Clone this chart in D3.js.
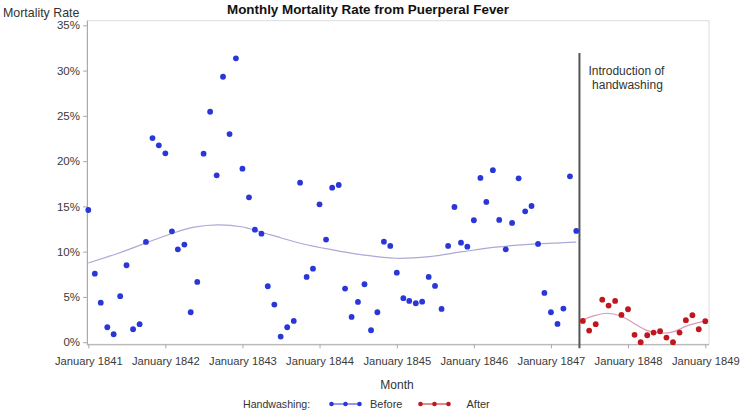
<!DOCTYPE html>
<html>
<head>
<meta charset="utf-8">
<script src="https://cdn.jsdelivr.net/npm/d3@7"></script>
<style>
  body { margin: 0; background: #fff; }
  text { font-family: "Liberation Sans", Arial, sans-serif; }
</style>
</head>
<body>
<div id="chart"></div>
<script>
// Monthly mortality rate (%)
let beforeStart = '1841-01-01';
let beforeRates = [
	14.6, 7.57, 4.37, 1.65, 0.88, 5.08, 8.5, 1.43, 1.99, 11.07, 22.55, 21.74,
	20.86, 12.25, 10.26, 10.78, 3.31, 6.66, 20.82, 25.45, 18.43, 29.32, 22.99, 31.35,
	19.16, 16.0, 12.43, 11.99, 6.18, 4.15, 0.62, 1.65, 2.35, 17.62, 7.21, 8.12,
	15.23, 11.33, 17.07, 17.36, 5.92, 2.79, 4.45, 6.4, 1.32, 3.31, 11.1, 10.63,
	7.68, 4.86, 4.56, 4.3, 4.48, 7.21, 6.21, 3.67, 10.63, 14.93, 10.99, 10.55,
	13.47, 18.14, 15.49, 19.0, 13.5, 10.26, 13.17, 18.1, 14.46, 15.04, 10.85, 5.44,
	3.31, 2.02, 3.71, 18.32, 12.29
];
let afterStart = '1847-06-01';
let afterRates = [
	2.35, 1.28, 1.99, 4.7, 4.04, 4.56, 3.01,
	3.64, 0.81, 0, 0.77, 1.06, 1.21, 0.51, 0, 1.06, 2.43, 2.98, 1.43,
	2.32
];

// Smoothed trend lines
let beforeSmoothDates = ['1841-01-01', '1841-05-20', '1842-02-01', '1842-05-18', '1842-09-07', '1842-12-27',
	'1843-05-15', '1843-10-06', '1844-03-03', '1844-07-22', '1844-12-28', '1845-06-03',
	'1845-11-09', '1846-04-15', '1846-09-19', '1847-05-01'];
let beforeSmooth = [8.75, 9.8, 12.0, 12.7, 12.95, 12.75, 11.85, 10.9, 10.2, 9.65, 9.27, 9.45, 10.0, 10.5, 10.8, 11.05];
let afterSmoothDates = ['1847-06-01', '1847-07-22', '1847-09-25', '1847-11-28', '1848-01-28', '1848-04-01',
	'1848-06-03', '1848-08-06', '1848-10-06', '1849-01-01'];
let afterSmooth = [2.45, 2.9, 3.2, 2.9, 2.1, 1.28, 0.99, 1.17, 1.8, 2.35];

let xTicks = ['1841-01-01', '1842-01-01', '1843-01-01', '1844-01-01', '1845-01-01',
	'1846-01-01', '1847-01-01', '1848-01-01', '1849-01-01'];
let yTicks = [0, 5, 10, 15, 20, 25, 30, 35];
let handwashingDate = '1847-05-16';
let legendItems = ['Before', 'After'];

// Set up SVG
let width = 740;
let height = 414;
let parse = d3.timeParse('%Y-%m-%d');

let svg = d3.select('#chart')
	.append('svg')
	.attr('width', width)
	.attr('height', height);

let frame = { left: 87, right: 709, top: 20.7, bottom: 344.3 };

let x = d3.scaleTime()
	.domain([parse('1841-01-01'), parse('1849-01-01')])
	.range([88.3, 705.3]);
let y = d3.scaleLinear()
	.domain([0, 35])
	.range([342.2, 25.3]);

let colors = { Before: '#2b36d8', After: '#c2161f' };
let smoothColors = { Before: '#aaaad6', After: '#d99ab9' };

function monthSeries(start, rates) {
	let s = parse(start);
	return rates.map(function(r, i) { return { date: d3.timeMonth.offset(s, i), rate: r }; });
}
let before = monthSeries(beforeStart, beforeRates);
let after = monthSeries(afterStart, afterRates);

// Frame
svg.append('rect')
	.attr('x', frame.left)
	.attr('y', frame.top)
	.attr('width', frame.right - frame.left)
	.attr('height', frame.bottom - frame.top)
	.attr('fill', 'none')
	.attr('stroke', '#dcdcdc');

// Axes
let xAxis = svg.append('g')
	.attr('transform', 'translate(0,' + frame.bottom + ')')
	.call(d3.axisBottom(x)
		.tickValues(xTicks.map(parse))
		.tickFormat(d3.timeFormat('%B %Y'))
		.tickSize(4)
		.tickSizeOuter(0));
xAxis.select('.domain').attr('stroke', '#aaa').attr('d', 'M' + frame.left + ',0.5H' + frame.right);
xAxis.selectAll('.tick line').attr('stroke', '#aaa');
xAxis.selectAll('.tick text')
	.attr('font-size', 11.2)
	.attr('fill', '#3a3a3a')
	.attr('y', 9)
	.attr('dy', '1.05em');

let yAxis = svg.append('g')
	.attr('transform', 'translate(' + frame.left + ',0)')
	.call(d3.axisLeft(y)
		.tickValues(yTicks)
		.tickFormat(function(d) { return d + '%'; })
		.tickSize(4)
		.tickSizeOuter(0));
yAxis.select('.domain').attr('stroke', '#aaa').attr('d', 'M0.5,' + frame.top + 'V' + frame.bottom);
yAxis.selectAll('.tick line').attr('stroke', '#aaa');
yAxis.selectAll('.tick text')
	.attr('font-size', 11.5)
	.attr('fill', '#3a3a3a')
	.attr('x', -7);
svg.selectAll('.domain, .tick line').attr('stroke-width', 1);

// Smooth lines
let line = d3.line()
	.x(function(d) { return x(d.date); })
	.y(function(d) { return y(d.rate); })
	.curve(d3.curveCatmullRom);

function smoothSeries(dates, vals) {
	return dates.map(function(d, i) { return { date: parse(d), rate: vals[i] }; });
}
svg.append('path')
	.datum(smoothSeries(beforeSmoothDates, beforeSmooth))
	.attr('fill', 'none')
	.attr('stroke', smoothColors.Before)
	.attr('stroke-width', 1.2)
	.attr('d', line);
svg.append('path')
	.datum(smoothSeries(afterSmoothDates, afterSmooth))
	.attr('fill', 'none')
	.attr('stroke', smoothColors.After)
	.attr('stroke-width', 1.2)
	.attr('d', line);

// Handwashing reference line
let hx = x(parse(handwashingDate));
svg.append('line')
	.attr('x1', hx).attr('x2', hx)
	.attr('y1', 53).attr('y2', frame.bottom + 4)
	.attr('stroke', '#555')
	.attr('stroke-width', 2);
svg.append('text')
	.attr('x', hx + 47)
	.attr('y', 75)
	.attr('text-anchor', 'middle')
	.attr('font-size', 12)
	.attr('fill', '#333')
	.text('Introduction of');
svg.append('text')
	.attr('x', hx + 48)
	.attr('y', 89)
	.attr('text-anchor', 'middle')
	.attr('font-size', 12)
	.attr('fill', '#333')
	.text('handwashing');

// Points
svg.selectAll('.before')
	.data(before)
	.enter()
	.append('circle')
	.attr('class', 'before')
	.attr('cx', function(d) { return x(d.date); })
	.attr('cy', function(d) { return y(d.rate); })
	.attr('r', 2.9)
	.attr('fill', colors.Before);
svg.selectAll('.after')
	.data(after)
	.enter()
	.append('circle')
	.attr('class', 'after')
	.attr('cx', function(d) { return x(d.date); })
	.attr('cy', function(d) { return y(d.rate); })
	.attr('r', 2.9)
	.attr('fill', colors.After);

// Titles
svg.append('text')
	.attr('x', 368)
	.attr('y', 14)
	.attr('text-anchor', 'middle')
	.attr('font-size', 13.4)
	.attr('font-weight', 'bold')
	.attr('fill', '#111')
	.text('Monthly Mortality Rate from Puerperal Fever');
svg.append('text')
	.attr('x', 3)
	.attr('y', 17)
	.attr('font-size', 12.4)
	.attr('fill', '#333')
	.text('Mortality Rate');
svg.append('text')
	.attr('x', 397)
	.attr('y', 389)
	.attr('text-anchor', 'middle')
	.attr('font-size', 12)
	.attr('fill', '#333')
	.text('Month');

// Legend
let ly = 404;
svg.append('text')
	.attr('x', 243)
	.attr('y', ly + 4)
	.attr('font-size', 10.6)
	.attr('fill', '#333')
	.text('Handwashing:');
let legendX = [331.5, 420.5];
for (let i = 0; i < legendItems.length; i++) {
	let key = legendItems[i];
	let lx = legendX[i];
	svg.append('line')
		.attr('x1', lx).attr('x2', lx + 28)
		.attr('y1', ly).attr('y2', ly)
		.attr('stroke', colors[key])
		.attr('stroke-width', 1);
	for (let j = 0; j < 3; j++) {
		svg.append('circle')
			.attr('cx', lx + j * 14)
			.attr('cy', ly)
			.attr('r', 2.3)
			.attr('fill', colors[key]);
	}
	svg.append('text')
		.attr('x', lx + (i === 0 ? 38.5 : 46))
		.attr('y', ly + 4)
		.attr('font-size', 11)
		.attr('fill', '#333')
		.text(key);
}
</script>
</body>
</html>
